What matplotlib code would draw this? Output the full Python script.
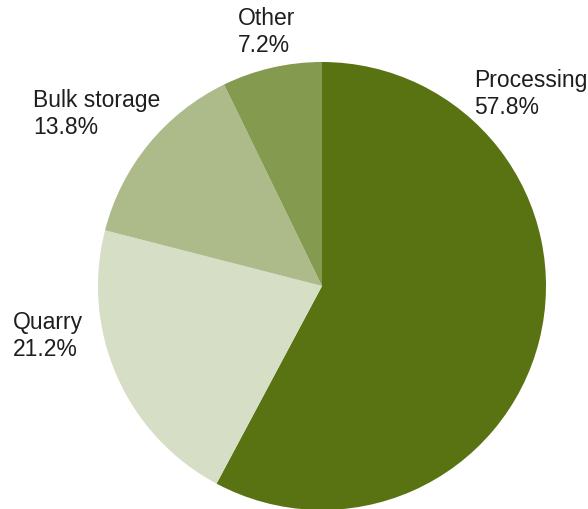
import matplotlib.pyplot as plt

categorias = ["Processing", "Quarry", "Bulk storage", "Other"]
valores = [57.8, 21.2, 13.8, 7.2]
colores = ["#5a7312", "#d7dec6", "#adbb8b", "#849a4e"]

W, H = 588, 509
fig = plt.figure(figsize=(W / 100, H / 100), dpi=100)

# centro del pie (322, 286) px, radio 224 px
cx, cy, r = 322, 286, 224
ax = fig.add_axes([(cx - r) / W, (H - cy - r) / H, 2 * r / W, 2 * r / H])
ax.pie(valores, colors=colores, startangle=90, counterclock=False,
       radius=1, wedgeprops=dict(linewidth=0))
ax.set_xlim(-1, 1)
ax.set_ylim(-1, 1)
ax.set_aspect("equal")
ax.axis("off")

# esquina superior izquierda de cada etiqueta, en pixeles
pos_etiquetas = {
    "Processing": (474, 69),
    "Quarry": (13, 311),
    "Bulk storage": (33, 89),
    "Other": (238, 7),
}
for cat, val in zip(categorias, valores):
    x, y = pos_etiquetas[cat]
    fig.text(x / W, 1 - y / H, f"{cat}\n{val:.1f}%", ha="left", va="top",
             fontsize=16.5, family="Liberation Sans", color="#1e1e1e",
             linespacing=1.2)

fig.savefig("out.png", dpi=100)
